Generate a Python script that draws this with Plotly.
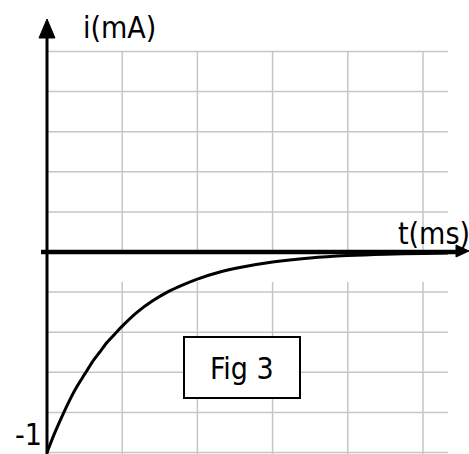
import plotly.graph_objects as go

# Discharge current i(t) in mA; time in grid divisions (ms)
t_ms = [0.0, 0.1, 0.2, 0.3, 0.4, 0.5, 0.6, 0.7, 0.8, 0.9, 1.0, 1.2, 1.4,
        1.6, 1.8, 2.0, 2.3, 2.6, 3.0, 3.5, 4.0, 4.5, 5.0, 5.33]
i_mA = [-1.0, -0.905, -0.82, -0.74, -0.67, -0.61, -0.55, -0.50, -0.45, -0.41,
        -0.37, -0.30, -0.245, -0.20, -0.165, -0.135, -0.10, -0.075, -0.05,
        -0.03, -0.018, -0.011, -0.007, -0.005]

# Grid divisions
grid_t = [0, 1, 2, 3, 4, 5]
grid_i = [-1.0, -0.8, -0.6, -0.4, -0.2, 0.2, 0.4, 0.6, 0.8, 1.0]
grid_t_end = 5.33

W, H = 469, 454
X0_PX, PX_PER_T = 47, 75.2      # origin column and pixels per ms
Y0_PX, PX_PER_I = 252, 200.5    # origin row and pixels per mA


def tx(px):
    return (px - X0_PX) / PX_PER_T


def iy(py):
    return (Y0_PX - py) / PX_PER_I


FONT = "DejaVu Sans Condensed, Liberation Sans, DejaVu Sans, sans-serif"
GRID = "#c6c6c6"

fig = go.Figure()

# grid lines
gx, gy = [], []
for v in grid_i:
    gx += [0, grid_t_end, None]
    gy += [v, v, None]
for t in grid_t[1:]:
    gx += [t, t, None]
    gy += [iy(H + 2), 1.0, None]
fig.add_trace(go.Scatter(x=gx, y=gy, mode="lines",
                         line=dict(color=GRID, width=1.5),
                         hoverinfo="skip", showlegend=False))

# light band just under the time axis
bx = [tx(105), tx(448), tx(448), tx(105), tx(105)]
by = [iy(254), iy(254), iy(282), iy(282), iy(254)]
fig.add_trace(go.Scatter(x=bx, y=by, mode="lines", fill="toself",
                         fillcolor="white", line=dict(width=0),
                         hoverinfo="skip", showlegend=False))

# current curve
fig.add_trace(go.Scatter(x=t_ms, y=i_mA, mode="lines",
                         line=dict(color="black", width=3, shape="spline",
                                   smoothing=0.8),
                         hoverinfo="skip", showlegend=False))

shapes = [
    # time axis
    dict(type="line", x0=tx(41), x1=tx(458), y0=0, y1=0,
         line=dict(color="black", width=4.5)),
    # current axis
    dict(type="line", x0=0, x1=0, y0=iy(H + 2), y1=iy(34),
         line=dict(color="black", width=3)),
    # arrow heads
    dict(type="path",
         path=f"M {tx(39)} {iy(38)} L {tx(47)} {iy(19)} L {tx(55)} {iy(38)} Z",
         fillcolor="black", line=dict(color="black", width=1)),
    dict(type="path",
         path=f"M {tx(456)} {iy(245)} L {tx(469)} {iy(251)} L {tx(456)} {iy(257)} Z",
         fillcolor="black", line=dict(color="black", width=1)),
    # caption box
    dict(type="rect", x0=tx(184), x1=tx(300), y0=iy(337), y1=iy(398),
         fillcolor="white", line=dict(color="black", width=2), layer="above"),
]

annotations = [
    dict(x=tx(81), y=iy(27), text="i(mA)", showarrow=False,
         xanchor="left", yanchor="middle", font=dict(size=30, color="black", family=FONT)),
    dict(x=tx(396), y=iy(233), text="t(ms)", showarrow=False,
         xanchor="left", yanchor="middle", font=dict(size=30, color="black", family=FONT)),
    dict(x=tx(44), y=iy(H), text="-1", showarrow=False,
         xanchor="right", yanchor="bottom", font=dict(size=30, color="black", family=FONT)),
    dict(x=tx(242), y=iy(368), text="Fig 3", showarrow=False,
         xanchor="center", yanchor="middle", font=dict(size=30, color="black", family=FONT)),
]

fig.update_layout(
    width=W, height=H, autosize=False,
    margin=dict(l=0, r=0, t=0, b=0),
    paper_bgcolor="white", plot_bgcolor="white",
    shapes=shapes, annotations=annotations,
    xaxis=dict(range=[tx(0), tx(W)], visible=False, fixedrange=True),
    yaxis=dict(range=[iy(H), iy(0)], visible=False, fixedrange=True),
    showlegend=False,
)

fig.write_html("out.html", config={"displayModeBar": False})
